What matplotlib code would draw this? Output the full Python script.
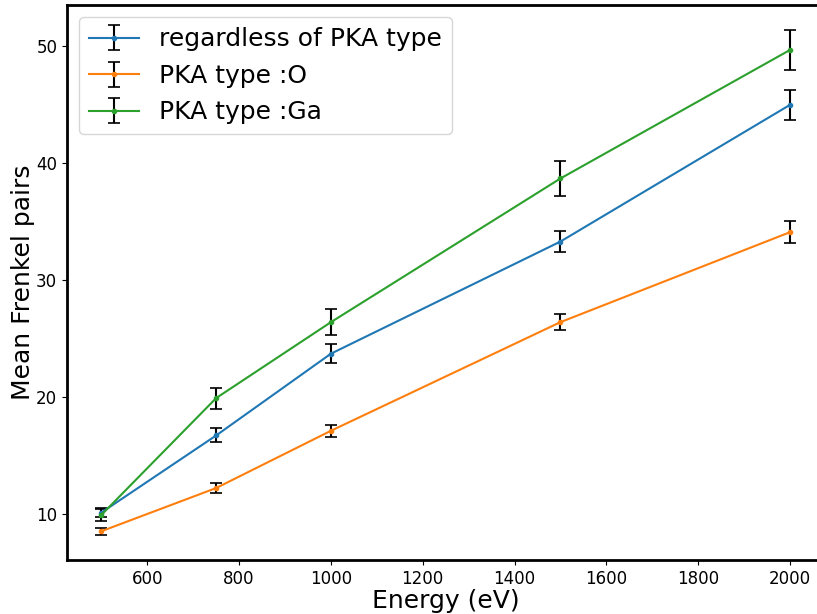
import numpy as np
import matplotlib.pyplot as plt

# Energies and mean Frenkel pairs
energy = [500, 750, 1000, 1500, 2000]

all_mean = [10.1, 16.7, 23.7, 33.3, 45.0]
all_err = [0.4, 0.6, 0.8, 0.9, 1.3]

o_mean = [8.5, 12.2, 17.1, 26.4, 34.1]
o_err = [0.3, 0.4, 0.5, 0.7, 0.95]

ga_mean = [9.9, 19.9, 26.4, 38.7, 49.7]
ga_err = [0.5, 0.9, 1.1, 1.5, 1.7]

labels = ['regardless of PKA type', 'PKA type :O', 'PKA type :Ga']

fig = plt.figure(figsize=(8.17, 6.14), dpi=100)
ax = fig.add_axes([0.082, 0.088, 0.927, 0.904])

for mean, err, lab in zip([all_mean, o_mean, ga_mean], [all_err, o_err, ga_err], labels):
    ax.errorbar(energy, mean, yerr=err, marker='o', ms=3, label=lab,
                ecolor='black', elinewidth=1.5, capsize=4, capthick=1.2)

ax.set_xlabel('Energy (eV)', fontsize=18, labelpad=1)
ax.set_ylabel('Mean Frenkel pairs', fontsize=18, labelpad=1)
ax.tick_params(labelsize=12)
ax.set_xticks([600, 800, 1000, 1200, 1400, 1600, 1800, 2000])
ax.set_yticks([10, 20, 30, 40, 50])
for s in ax.spines.values():
    s.set_linewidth(2)
ax.legend(loc='upper left', fontsize=18)

plt.savefig('out.png', dpi=100)
